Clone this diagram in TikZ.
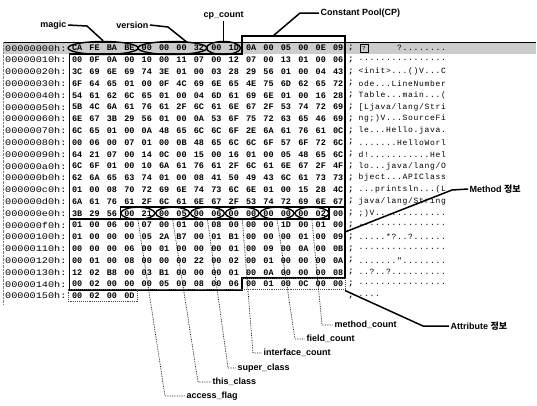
\documentclass[tikz,border=0pt]{standalone}
\usepackage{fontspec}
\setmainfont{Liberation Sans}
\newfontfamily\hexfont{Liberation Mono}
\newfontfamily\addrfont{Liberation Mono}[FakeStretch=1.2]
\newfontfamily\krfont{Noto Sans CJK KR}
\usetikzlibrary{shapes.geometric}
\def\hxp#1#2{\ifx#1\relax\else\makebox[17.4pt][c]{#1#2}\expandafter\hxp\fi}
\newcommand\hxpairs[1]{\hxp#1\relax\relax}
\def\asp#1{\ifx#1\relax\else\makebox[5.5pt][c]{#1}\expandafter\asp\fi}
\newcommand\hexline[4]{%
  \node[addr] (a#1) at (5,{48+11.8*#1}) {#2};
  \node[hexr] (h#1) at (68.3,{48+11.8*#1}) {\hxpairs{#3}};
  \node[semi] (s#1) at (351,{48+11.8*#1}) {;};
  \node[asc] (t#1) at (358,{48+11.8*#1}) {\asp#4\relax};
}
\begin{document}
\begin{tikzpicture}[x=1pt,y=-1pt,
  addr/.style={anchor=west,inner sep=0,font=\addrfont\fontsize{8.5}{9}\selectfont},
  hexr/.style={anchor=west,inner sep=0,font=\hexfont\bfseries\fontsize{8.5}{9}\selectfont},
  semi/.style={inner sep=0,font=\hexfont\bfseries\fontsize{8.5}{9}\selectfont},
  asc/.style={anchor=west,inner sep=0,font=\hexfont\fontsize{8}{9}\selectfont},
  ell/.style={draw,ellipse,line width=1.4pt,inner sep=0,minimum height=13pt},
  boxln/.style={draw,line width=1.8pt,line join=miter},
  attrln/.style={draw,densely dotted,line width=0.9pt,gray!60!black},
  lead/.style={draw,line width=1.5pt},
  dlead/.style={draw,densely dotted,line width=0.7pt},
  lbl/.style={inner sep=1.5pt,font=\bfseries\fontsize{9}{10}\selectfont}]
\useasboundingbox (0,0) rectangle (537,405);
\fill[gray!40] (3,42.1) rectangle (536,53.9);
\draw[line width=1.2pt] (3,42.1) -- (536,42.1);
\draw[densely dotted,gray] (3,42) -- (3,304);

\node[addr] (a0) at (5,48) {00000000h:};
\node[hexr] (h0) at (68.3,48) {\hxpairs{CA FE BA BE 00 00 00 32 00 1D 0A 00 05 00 0E 09}};
\node[semi] (s0) at (351,48) {;};
\node[draw,line width=0.8pt,minimum size=8pt,inner sep=0,font=\hexfont\fontsize{6}{6}\selectfont] (bx) at (364,48) {?};
\node[asc] (t0) at (396.5,48) {\asp?........\relax};
\hexline{1}{00000010h:}{00 0F 0A 00 10 00 11 07 00 12 07 00 13 01 00 06}{................}
\hexline{2}{00000020h:}{3C 69 6E 69 74 3E 01 00 03 28 29 56 01 00 04 43}{<init>...()V...C}
\hexline{3}{00000030h:}{6F 64 65 01 00 0F 4C 69 6E 65 4E 75 6D 62 65 72}{ode...LineNumber}
\hexline{4}{00000040h:}{54 61 62 6C 65 01 00 04 6D 61 69 6E 01 00 16 28}{Table...main...(}
\hexline{5}{00000050h:}{5B 4C 6A 61 76 61 2F 6C 61 6E 67 2F 53 74 72 69}{[Ljava/lang/Stri}
\hexline{6}{00000060h:}{6E 67 3B 29 56 01 00 0A 53 6F 75 72 63 65 46 69}{ng;)V...SourceFi}
\hexline{7}{00000070h:}{6C 65 01 00 0A 48 65 6C 6C 6F 2E 6A 61 76 61 0C}{le...Hello.java.}
\hexline{8}{00000080h:}{00 06 00 07 01 00 0B 48 65 6C 6C 6F 57 6F 72 6C}{.......HelloWorl}
\hexline{9}{00000090h:}{64 21 07 00 14 0C 00 15 00 16 01 00 05 48 65 6C}{d!...........Hel}
\hexline{10}{000000a0h:}{6C 6F 01 00 10 6A 61 76 61 2F 6C 61 6E 67 2F 4F}{lo...java/lang/O}
\hexline{11}{000000b0h:}{62 6A 65 63 74 01 00 08 41 50 49 43 6C 61 73 73}{bject...APIClass}
\hexline{12}{000000c0h:}{01 00 08 70 72 69 6E 74 73 6C 6E 01 00 15 28 4C}{...printsln...(L}
\hexline{13}{000000d0h:}{6A 61 76 61 2F 6C 61 6E 67 2F 53 74 72 69 6E 67}{java/lang/String}
\hexline{14}{000000e0h:}{3B 29 56 00 21 00 05 00 06 00 00 00 00 00 02 00}{;)V.............}
\hexline{15}{000000f0h:}{01 00 06 00 07 00 01 00 08 00 00 00 1D 00 01 00}{................}
\hexline{16}{00000100h:}{01 00 00 00 05 2A B7 00 01 B1 00 00 00 01 00 09}{.....*?..?......}
\hexline{17}{00000110h:}{00 00 00 06 00 01 00 00 00 01 00 09 00 0A 00 0B}{................}
\hexline{18}{00000120h:}{00 01 00 08 00 00 00 22 00 02 00 01 00 00 00 0A}{......."........}
\hexline{19}{00000130h:}{12 02 B8 00 03 B1 00 00 00 01 00 0A 00 00 00 08}{..?..?..........}
\hexline{20}{00000140h:}{00 02 00 00 00 05 00 08 00 06 00 01 00 0C 00 00}{................}
\hexline{21}{00000150h:}{00 02 00 0D}{....}

% row 0 ellipses
\node[ell,minimum width=70pt] (magicE) at (103.1,48) {};
\node[ell,minimum width=69pt] (verE) at (172.5,48) {};
\node[ell,minimum width=34pt] (cpE) at (223.5,48) {};
% row e0 ellipses
\node[ell,minimum width=34pt,minimum height=12pt] (e1) at (137.9,213.2) {};
\node[ell,minimum width=34pt,minimum height=12pt] (e2) at (172.7,213.2) {};
\node[ell,minimum width=34pt,minimum height=12pt] (e3) at (207.5,213.2) {};
\node[ell,minimum width=34pt,minimum height=12pt] (e4) at (242.3,213.2) {};
\node[ell,minimum width=34pt,minimum height=12pt] (e5) at (277.1,213.2) {};
\node[ell,minimum width=34pt,minimum height=12pt] (e6) at (311.9,213.2) {};

% boxes
\draw[boxln] (242.3,36) -- (345,36) -- (345,207.3) -- (120.5,207.3) -- (120.5,219.1) -- (69.5,219.1) -- (69.5,53.9) -- (242.3,53.9) -- cycle;
\draw[boxln] (69.5,219.1) -- (329.3,219.1) -- (329.3,207.3) -- (345,207.3) -- (345,278.1) -- (242.3,278.1) -- (242.3,289.9) -- (69.5,289.9) -- cycle;
\draw[attrln] (242.3,278.1) -- (345,278.1) -- (345,289.9) -- (137.9,289.9) -- (137.9,301.7) -- (68.3,301.7) -- (68.3,289.9) -- (242.3,289.9);

% top labels
\node[lbl,anchor=east] (lmagic) at (68,25) {magic};
\node[lbl,anchor=east] (lver) at (150,25) {version};
\node[lbl] (lcp) at (223.5,15) {cp\_count};
\node[lbl,anchor=west] (lCP) at (319,13) {Constant Pool(CP)};
\coordinate (verEnd) at (187,42.3);
\coordinate (cpTop) at (273,36);
\draw[lead] (lmagic.east) -- (87,26) -- (magicE.north);
\draw[lead] (lver.east) -- (168,27) -- (verEnd);
\draw[lead] (lcp.south) -- (cpE.north);
\draw[lead] (lCP.west) -- (300,13) -- (cpTop);

% right labels
\node[lbl,anchor=west] (lMethod) at (468,189) {Method {\krfont 정보}};
\node[lbl,anchor=west] (lAttr) at (449,326) {Attribute {\krfont 정보}};
\coordinate (mEnd) at (345,232);
\coordinate (aEnd) at (345,290.5);
\draw[lead] (lMethod.west) -- (452,190) -- (mEnd);
\draw[lead] (lAttr.west) -- (423,326) -- (aEnd);

% bottom labels
\node[lbl,anchor=west] (l1) at (185,396) {access\_flag};
\node[lbl,anchor=west] (l2) at (211,382) {this\_class};
\node[lbl,anchor=west] (l3) at (236,368) {super\_class};
\node[lbl,anchor=west] (l4) at (262,353) {interface\_count};
\node[lbl,anchor=west] (l5) at (305,339) {field\_count};
\node[lbl,anchor=west] (l6) at (333,325) {method\_count};
\draw[dlead] (e1.south) -- (165,396) -- (l1.west);
\draw[dlead] (e2.south) -- (198,382) -- (l2.west);
\draw[dlead] (e3.south) -- (228,368) -- (l3.west);
\draw[dlead] (e4.south) -- (253,353) -- (l4.west);
\draw[dlead] (e5.south) -- (295,339) -- (l5.west);
\draw[dlead] (e6.south) -- (322,325) -- (l6.west);
\end{tikzpicture}
\end{document}
